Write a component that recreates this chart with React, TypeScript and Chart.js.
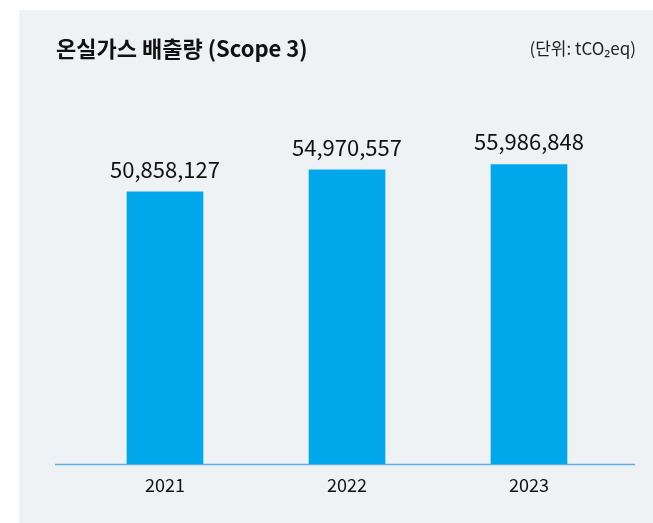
import React, { useEffect, useRef } from "react";
import { Chart, registerables } from "chart.js";

Chart.register(...registerables);

const categories = ["2021", "2022", "2023"];
const emissions = [50858127, 54970557, 55986848];
const titleText = "온실가스 배출량 (Scope 3)";
const unitText = "(단위: tCO₂eq)";

const FONT = "'Noto Sans CJK KR', 'Noto Sans', sans-serif";

const decorPlugin = {
  id: "decor",
  beforeDraw(chart: any) {
    const { ctx } = chart;
    ctx.save();
    ctx.fillStyle = "#ffffff";
    ctx.fillRect(0, 0, chart.width, chart.height);
    ctx.fillStyle = "#eef2f4";
    ctx.fillRect(19, 10, chart.width - 19, chart.height - 10);
    ctx.fillStyle = "#111111";
    ctx.textBaseline = "middle";
    ctx.font = `bold 22px ${FONT}`;
    ctx.textAlign = "left";
    ctx.fillText(titleText, 56, 49);
    ctx.font = `17px ${FONT}`;
    ctx.textAlign = "right";
    ctx.fillStyle = "#222222";
    ctx.fillText(unitText, 636, 49);
    ctx.restore();
  },
  beforeDatasetsDraw(chart: any) {
    const { ctx } = chart;
    const y = chart.scales.y.getPixelForValue(0);
    ctx.save();
    ctx.strokeStyle = "#5fb1e0";
    ctx.lineWidth = 1.5;
    ctx.beginPath();
    ctx.moveTo(55, y + 0.5);
    ctx.lineTo(635, y + 0.5);
    ctx.stroke();
    ctx.restore();
  },
  afterDatasetsDraw(chart: any) {
    const { ctx } = chart;
    const meta = chart.getDatasetMeta(0);
    ctx.save();
    ctx.fillStyle = "#111111";
    ctx.font = `22px ${FONT}`;
    ctx.textAlign = "center";
    ctx.textBaseline = "alphabetic";
    meta.data.forEach((bar: any, i: number) => {
      const v = chart.data.datasets[0].data[i] as number;
      ctx.fillText(v.toLocaleString("en-US"), bar.x, bar.y - 14);
    });
    ctx.restore();
  },
};

export default function App() {
  const ref = useRef<HTMLCanvasElement | null>(null);
  useEffect(() => {
    document.body.style.margin = "0";
    const chart = new Chart(ref.current as HTMLCanvasElement, {
      type: "bar",
      data: {
        labels: categories,
        datasets: [
          {
            data: emissions,
            backgroundColor: "#00a7ea",
            borderWidth: 0,
            barThickness: 76,
          },
        ],
      },
      options: {
        animation: false,
        responsive: false,
        layout: { padding: { left: 74, right: 33, top: 143, bottom: 19 } },
        plugins: { legend: { display: false }, tooltip: { enabled: false } },
        scales: {
          x: {
            grid: { display: false, drawTicks: false },
            border: { display: false },
            ticks: {
              color: "#111111",
              font: { family: FONT, size: 18 },
              padding: 10,
            },
            afterFit: (scale: any) => {
              scale.height = 40;
            },
          },
          y: {
            display: false,
            min: 0,
            max: 60000000,
          },
        },
      },
      plugins: [decorPlugin],
    });
    return () => chart.destroy();
  }, []);
  return (
    <div style={{ position: "absolute", left: 0, top: 0, width: 653, height: 523 }}>
      <canvas ref={ref} width={653} height={523} style={{ width: 653, height: 523 }} />
    </div>
  );
}
